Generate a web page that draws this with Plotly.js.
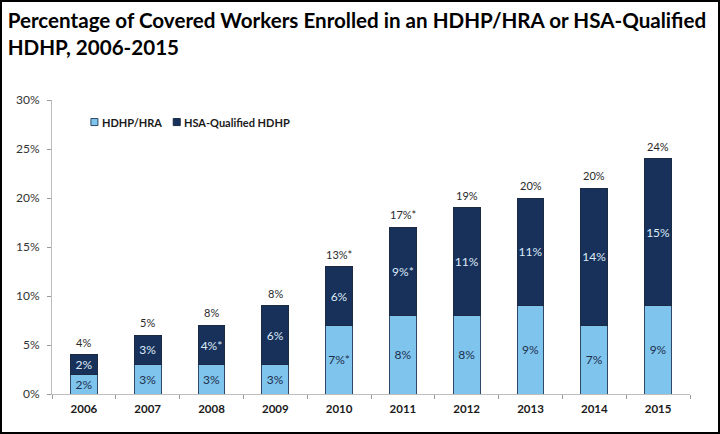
<!DOCTYPE html>
<html>
<head>
<meta charset="utf-8">
<script src="https://cdn.plot.ly/plotly-3.0.1.min.js"></script>
<style>
  html, body { margin: 0; padding: 0; background: #fff; }
  #chart { width: 720px; height: 434px; box-sizing: border-box; border: 2px solid #000; }
</style>
</head>
<body>
<div id="chart"></div>
<script>
// Survey years
const years = ['2006', '2007', '2008', '2009', '2010', '2011', '2012', '2013', '2014', '2015'];

// Share of covered workers (percent) by plan type
const hdhpHra = [2, 3, 3, 3, 7, 8, 8, 9, 7, 9];
const hsaQualified = [2, 3, 4, 6, 6, 9, 11, 11, 14, 15];

// Segment labels (asterisk marks a statistically significant change)
const hdhpHraLabels = ['2%', '3%', '3%', '3%', '7%*', '8%', '8%', '9%', '7%', '9%'];
const hsaQualifiedLabels = ['2%', '3%', '4%*', '6%', '6%', '9%*', '11%', '11%', '14%', '15%'];

// Combined totals printed above each column
const totalLabels = ['4%', '5%', '8%', '8%', '13%*', '17%*', '19%', '20%', '20%', '24%'];

const seriesNames = ['HDHP/HRA', 'HSA-Qualified HDHP'];
const lightBlue = '#7EC4EC';
const navy = '#17315B';
const baseFont = 'Lato, "Open Sans", sans-serif';

const traces = [
  {
    type: 'bar', name: seriesNames[0], x: years, y: hdhpHra,
    text: hdhpHraLabels, texttemplate: '%{text}',
    textposition: 'inside', insidetextanchor: 'middle', textangle: 0,
    constraintext: 'none',
    textfont: { family: baseFont, size: 12, color: '#1E2F4E' },
    marker: { color: lightBlue, line: { color: '#2E4866', width: 1 } },
    hoverinfo: 'skip', showlegend: false
  },
  {
    type: 'bar', name: seriesNames[1], x: years, y: hsaQualified,
    text: hsaQualifiedLabels, texttemplate: '%{text}',
    textposition: 'inside', insidetextanchor: 'middle', textangle: 0,
    constraintext: 'none',
    textfont: { family: baseFont, size: 12, color: '#DCEAF7' },
    marker: { color: navy, line: { color: '#1B2B44', width: 1 } },
    hoverinfo: 'skip', showlegend: false
  }
];

// Total labels sit just above each stacked column (x given as category index)
const annotations = years.map((yr, i) => ({
  x: i, y: hdhpHra[i] + hsaQualified[i], xref: 'x', yref: 'y',
  text: totalLabels[i], showarrow: false, yanchor: 'bottom', yshift: 4,
  font: { family: baseFont, size: 11, color: '#2a2a2a' }
}));

// Hand-drawn legend: small swatches followed by bold names
const legendY = 0.925;
const legendItems = [
  { x: 0.061, color: lightBlue, line: '#2E4866', label: seriesNames[0] },
  { x: 0.19, color: navy, line: '#1B2B44', label: seriesNames[1] }
];
const shapes = [];
legendItems.forEach(item => {
  shapes.push({
    type: 'rect', xref: 'paper', yref: 'paper',
    x0: item.x, x1: item.x + 0.011, y0: legendY - 0.012, y1: legendY + 0.012,
    fillcolor: item.color, line: { color: item.line, width: 1 }
  });
  annotations.push({
    xref: 'paper', yref: 'paper', x: item.x + 0.0135, y: legendY,
    xanchor: 'left', yanchor: 'middle', showarrow: false,
    text: '<b>' + item.label + '</b>',
    font: { family: baseFont, size: 11, color: '#1a1a1a' }
  });
});

const layout = {
  width: 716, height: 430,
  margin: { l: 50, r: 28, t: 98, b: 38 },
  paper_bgcolor: '#fff', plot_bgcolor: '#fff',
  barmode: 'stack', bargap: 0.58,
  showlegend: false,
  title: {
    text: '<b>Percentage of Covered Workers Enrolled in an HDHP/HRA or HSA-Qualified<br>HDHP, 2006-2015</b>',
    x: 0.008, xanchor: 'left', xref: 'container',
    y: 0.94, yanchor: 'top', yref: 'container',
    font: { family: baseFont, size: 20.6, color: '#000' }
  },
  xaxis: {
    type: 'category', range: [-0.5, 9.5], showgrid: false, zeroline: false,
    showline: true, linecolor: '#BDBDBD', linewidth: 1,
    ticks: 'outside', tickson: 'boundaries', ticklen: 4, tickcolor: '#9A9A9A',
    ticklabelstandoff: 4,
    tickfont: { family: baseFont, size: 11.5, color: '#1a1a1a', weight: 'bold' },
    fixedrange: true
  },
  yaxis: {
    range: [0, 30], dtick: 5, ticksuffix: '%',
    showgrid: false, zeroline: false,
    showline: true, linecolor: '#BDBDBD', linewidth: 1,
    ticks: 'outside', ticklen: 4, tickcolor: '#9A9A9A',
    ticklabelstandoff: 5,
    tickfont: { family: baseFont, size: 12, color: '#333' },
    fixedrange: true
  },
  annotations: annotations,
  shapes: shapes
};

Plotly.newPlot('chart', traces, layout, { displayModeBar: false, staticPlot: true });
</script>
</body>
</html>
